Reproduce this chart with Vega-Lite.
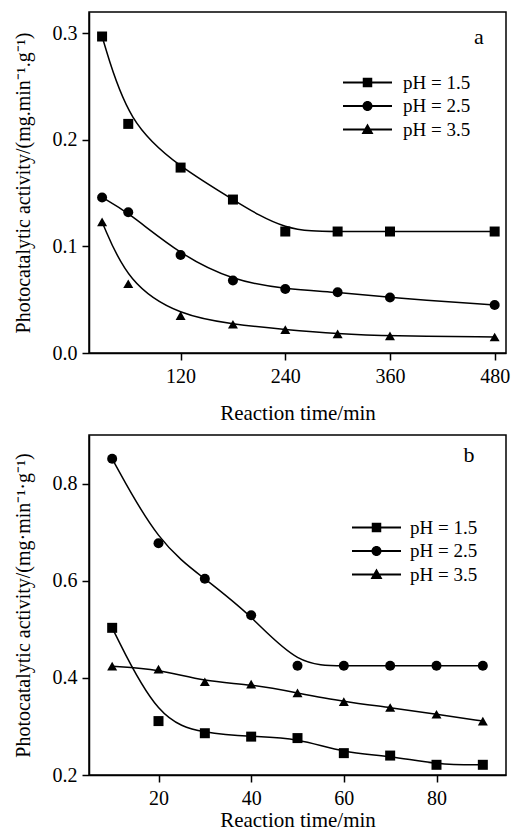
{
  "$schema": "https://vega.github.io/schema/vega-lite/v6.json",
  "autosize": {"type": "pad"},
  "padding": {"left": 12, "top": 11, "right": 4, "bottom": 0},
  "config": {
    "font": "Liberation Serif",
    "view": {"stroke": "black", "strokeWidth": 1.5},
    "axis": {
      "domainColor": "black", "domainWidth": 1.5,
      "tickColor": "black", "tickWidth": 1.5, "tickSize": 7,
      "grid": false,
      "labelColor": "black", "labelFontSize": 20, "labelFont": "Liberation Serif",
      "titleColor": "black", "titleFont": "Liberation Serif", "titleFontWeight": "normal"
    },
    "axisX": {"labelPadding": 6, "titleFontSize": 21},
    "axisY": {"labelPadding": 5, "titlePadding": 19, "titleFontSize": 20},
    "legend": {
      "orient": "none", "title": null, "padding": 0,
      "labelFontSize": 19, "labelFont": "Liberation Serif", "labelColor": "black",
      "symbolSize": 100, "symbolStrokeWidth": 0, "symbolFillColor": "black", "symbolOpacity": 1,
      "rowPadding": 3.5
    }
  },
  "spacing": 10,
  "resolve": {"scale": {"x": "independent", "y": "independent", "shape": "independent"}, "legend": {"shape": "independent"}},
  "vconcat": [
    {
      "width": 417, "height": 341,
      "data": {"values": [
        {"t": 30, "v": 0.297, "s": "pH = 1.5"}, {"t": 60, "v": 0.215, "s": "pH = 1.5"}, {"t": 120, "v": 0.174, "s": "pH = 1.5"}, {"t": 180, "v": 0.144, "s": "pH = 1.5"},
        {"t": 240, "v": 0.114, "s": "pH = 1.5"}, {"t": 300, "v": 0.114, "s": "pH = 1.5"}, {"t": 360, "v": 0.114, "s": "pH = 1.5"}, {"t": 480, "v": 0.114, "s": "pH = 1.5"},
        {"t": 30, "v": 0.146, "s": "pH = 2.5"}, {"t": 60, "v": 0.132, "s": "pH = 2.5"}, {"t": 120, "v": 0.092, "s": "pH = 2.5"}, {"t": 180, "v": 0.068, "s": "pH = 2.5"},
        {"t": 240, "v": 0.060, "s": "pH = 2.5"}, {"t": 300, "v": 0.057, "s": "pH = 2.5"}, {"t": 360, "v": 0.052, "s": "pH = 2.5"}, {"t": 480, "v": 0.045, "s": "pH = 2.5"},
        {"t": 30, "v": 0.123, "s": "pH = 3.5"}, {"t": 60, "v": 0.065, "s": "pH = 3.5"}, {"t": 120, "v": 0.035, "s": "pH = 3.5"}, {"t": 180, "v": 0.027, "s": "pH = 3.5"},
        {"t": 240, "v": 0.022, "s": "pH = 3.5"}, {"t": 300, "v": 0.018, "s": "pH = 3.5"}, {"t": 360, "v": 0.016, "s": "pH = 3.5"}, {"t": 480, "v": 0.015, "s": "pH = 3.5"}
      ]},
      "encoding": {
        "x": {"field": "t", "type": "quantitative", "scale": {"domain": [15, 493], "nice": false, "zero": false},
              "axis": {"values": [120, 240, 360, 480], "title": "Reaction time/min", "titlePadding": 16}},
        "y": {"field": "v", "type": "quantitative", "scale": {"domain": [0, 0.32], "nice": false},
              "axis": {"values": [0, 0.1, 0.2, 0.3], "format": ".1f", "title": "Photocatalytic activity/(mg.min⁻¹.g⁻¹)"}}
      },
      "layer": [
        {"mark": {"type": "line", "interpolate": "basis", "color": "black", "strokeWidth": 1.5},
         "encoding": {"detail": {"field": "s", "type": "nominal"}}},
        {"mark": {"type": "point", "filled": true, "color": "black", "size": 100, "opacity": 1},
         "encoding": {"shape": {"field": "s", "type": "nominal",
            "scale": {"domain": ["pH = 1.5", "pH = 2.5", "pH = 3.5"], "range": ["square", "circle", "triangle-up"]},
            "legend": null}}},
        {"transform": [{"filter": "false"}],
         "mark": {"type": "point", "filled": true, "color": "black", "size": 100, "opacity": 1},
         "encoding": {"shape": {"field": "s", "type": "nominal",
            "scale": {"domain": ["pH = 1.5", "pH = 2.5", "pH = 3.5"], "range": [
              "M-4.9,-0.18H4.9V0.18H-4.9ZM-0.95,-0.95H0.95V0.95H-0.95Z",
              "M-4.9,-0.18H4.9V0.18H-4.9ZM1,0C1,0.552,0.552,1,0,1C-0.552,1,-1,0.552,-1,0C-1,-0.552,-0.552,-1,0,-1C0.552,-1,1,-0.552,1,0Z",
              "M-4.9,-0.18H4.9V0.18H-4.9ZM0,-1.2L1.2,0.9H-1.2Z"]},
            "legend": {"legendX": 269, "legendY": 61, "labelOffset": 26}}}},
        {"transform": [{"filter": "datum.t === 480 && datum.s === 'pH = 1.5'"}],
         "mark": {"type": "text", "fontSize": 22, "font": "Liberation Serif", "fontWeight": "normal", "color": "black"},
         "encoding": {"x": {"datum": 462}, "y": {"datum": 0.297}, "text": {"value": "a"}}}
      ],
      "resolve": {"scale": {"shape": "independent"}, "legend": {"shape": "independent"}}
    },
    {
      "width": 417, "height": 340,
      "data": {"values": [
        {"t": 10, "v": 0.503, "s": "pH = 1.5"}, {"t": 20, "v": 0.311, "s": "pH = 1.5"}, {"t": 30, "v": 0.286, "s": "pH = 1.5"}, {"t": 40, "v": 0.279, "s": "pH = 1.5"},
        {"t": 50, "v": 0.276, "s": "pH = 1.5"}, {"t": 60, "v": 0.245, "s": "pH = 1.5"}, {"t": 70, "v": 0.240, "s": "pH = 1.5"}, {"t": 80, "v": 0.221, "s": "pH = 1.5"}, {"t": 90, "v": 0.221, "s": "pH = 1.5"},
        {"t": 10, "v": 0.851, "s": "pH = 2.5"}, {"t": 20, "v": 0.677, "s": "pH = 2.5"}, {"t": 30, "v": 0.604, "s": "pH = 2.5"}, {"t": 40, "v": 0.529, "s": "pH = 2.5"},
        {"t": 50, "v": 0.425, "s": "pH = 2.5"}, {"t": 60, "v": 0.425, "s": "pH = 2.5"}, {"t": 70, "v": 0.425, "s": "pH = 2.5"}, {"t": 80, "v": 0.425, "s": "pH = 2.5"}, {"t": 90, "v": 0.425, "s": "pH = 2.5"},
        {"t": 10, "v": 0.424, "s": "pH = 3.5"}, {"t": 20, "v": 0.418, "s": "pH = 3.5"}, {"t": 30, "v": 0.392, "s": "pH = 3.5"}, {"t": 40, "v": 0.387, "s": "pH = 3.5"},
        {"t": 50, "v": 0.369, "s": "pH = 3.5"}, {"t": 60, "v": 0.351, "s": "pH = 3.5"}, {"t": 70, "v": 0.339, "s": "pH = 3.5"}, {"t": 80, "v": 0.325, "s": "pH = 3.5"}, {"t": 90, "v": 0.311, "s": "pH = 3.5"}
      ]},
      "encoding": {
        "x": {"field": "t", "type": "quantitative", "scale": {"domain": [5, 95], "nice": false, "zero": false},
              "axis": {"values": [20, 40, 60, 80], "title": "Reaction time/min", "titlePadding": 1}},
        "y": {"field": "v", "type": "quantitative", "scale": {"domain": [0.2, 0.9], "nice": false, "zero": false},
              "axis": {"values": [0.2, 0.4, 0.6, 0.8], "format": ".1f", "title": "Photocatalytic activity/(mg·min⁻¹·g⁻¹)"}}
      },
      "layer": [
        {"mark": {"type": "line", "interpolate": "basis", "color": "black", "strokeWidth": 1.5},
         "encoding": {"detail": {"field": "s", "type": "nominal"}}},
        {"mark": {"type": "point", "filled": true, "color": "black", "size": 100, "opacity": 1},
         "encoding": {"shape": {"field": "s", "type": "nominal",
            "scale": {"domain": ["pH = 1.5", "pH = 2.5", "pH = 3.5"], "range": ["square", "circle", "triangle-up"]},
            "legend": null}}},
        {"transform": [{"filter": "false"}],
         "mark": {"type": "point", "filled": true, "color": "black", "size": 100, "opacity": 1},
         "encoding": {"shape": {"field": "s", "type": "nominal",
            "scale": {"domain": ["pH = 1.5", "pH = 2.5", "pH = 3.5"], "range": [
              "M-4.9,-0.18H4.9V0.18H-4.9ZM-0.95,-0.95H0.95V0.95H-0.95Z",
              "M-4.9,-0.18H4.9V0.18H-4.9ZM1,0C1,0.552,0.552,1,0,1C-0.552,1,-1,0.552,-1,0C-1,-0.552,-0.552,-1,0,-1C0.552,-1,1,-0.552,1,0Z",
              "M-4.9,-0.18H4.9V0.18H-4.9ZM0,-1.2L1.2,0.9H-1.2Z"]},
            "legend": {"legendX": 278, "legendY": 83, "labelOffset": 24}}}},
        {"transform": [{"filter": "datum.t === 90 && datum.s === 'pH = 2.5'"}],
         "mark": {"type": "text", "fontSize": 22, "font": "Liberation Serif", "fontWeight": "normal", "color": "black"},
         "encoding": {"x": {"datum": 87}, "y": {"datum": 0.858}, "text": {"value": "b"}}}
      ],
      "resolve": {"scale": {"shape": "independent"}, "legend": {"shape": "independent"}}
    }
  ]
}
